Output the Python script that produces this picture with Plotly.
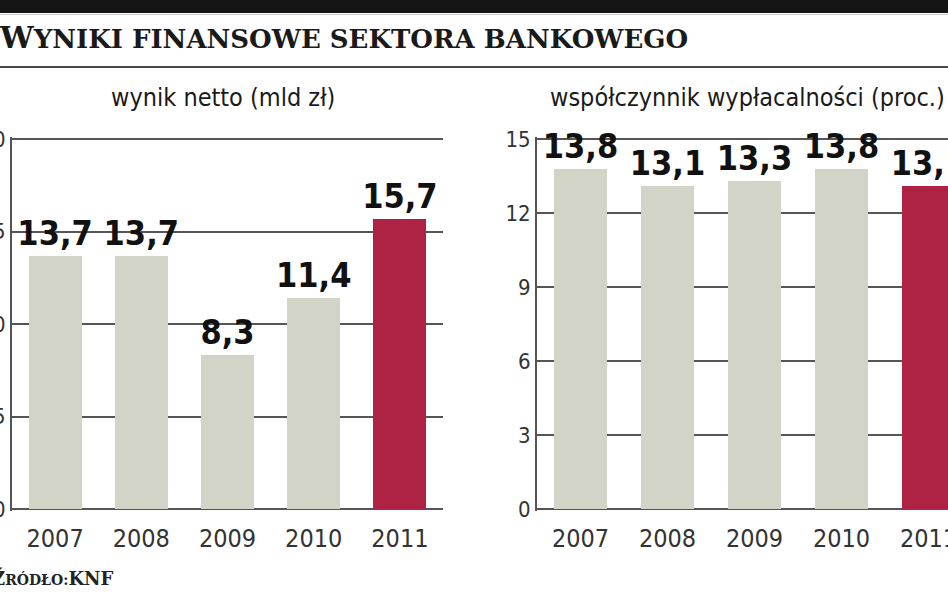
import plotly.graph_objects as go

years = ["2007", "2008", "2009", "2010", "2011"]
net_profit = [13.7, 13.7, 8.3, 11.4, 15.7]
solvency = [13.8, 13.1, 13.3, 13.8, 13.1]
left_ticks = [0, 5, 10, 15, 20]
right_ticks = [0, 3, 6, 9, 12, 15]
title_first = "W"
title_rest = "YNIKI FINANSOWE SEKTORA BANKOWEGO"
left_sub = "wynik netto (mld zł)"
right_sub = "współczynnik wypłacalności (proc.)"
source_first = "Ź"
source_mid = "RÓDŁO:"
source_last = "KNF"

GRAY = "#d3d4c8"
RED = "#ae2343"
GRID = "#555555"
colors = [GRAY] * 4 + [RED]

W, H = 948, 593
NARROW = "Liberation Sans Narrow, DejaVu Sans Condensed, Arial Narrow, sans-serif"
SLAB = "DejaVu Serif, serif"


def px(x):
    return x / W


def py(y):
    return 1 - y / H


def fmt(v):
    return f"{v:.1f}".replace(".", ",")


fig = go.Figure()

label_font = dict(family=NARROW, size=34, color="#111111", weight="bold")

fig.add_trace(go.Bar(
    x=years, y=net_profit, marker=dict(color=colors, line=dict(width=0)),
    width=0.615, text=[fmt(v) for v in net_profit], textposition="outside",
    cliponaxis=False, constraintext="none", textfont=label_font,
    outsidetextfont=label_font, xaxis="x", yaxis="y", hoverinfo="skip",
    showlegend=False))

fig.add_trace(go.Bar(
    x=years, y=solvency, marker=dict(color=colors, line=dict(width=0)),
    width=0.61, text=[fmt(v) for v in solvency], textposition="outside",
    cliponaxis=False, constraintext="none", textfont=label_font,
    outsidetextfont=label_font, xaxis="x2", yaxis="y2", hoverinfo="skip",
    showlegend=False))

xcommon = dict(showgrid=False, zeroline=False, showline=False, ticks="",
               tickfont=dict(family=NARROW, size=25, color="#333333"),
               ticklabelstandoff=10, fixedrange=True, automargin=False)
ycommon = dict(showgrid=True, gridcolor=GRID, gridwidth=2,
               zeroline=True, zerolinecolor=GRID, zerolinewidth=2,
               showline=True, linecolor=GRID, linewidth=2, ticks="",
               tickfont=dict(family=NARROW, size=22, color="#333333"),
               ticklabelstandoff=0, fixedrange=True, automargin=False)

lpx = 18.5
rpx = 24.667
fig.update_layout(
    width=W, height=H, margin=dict(l=0, r=0, t=0, b=0, autoexpand=False),
    paper_bgcolor="white", plot_bgcolor="white", bargap=0,
    xaxis=dict(domain=[px(12), px(443)], range=[-0.5, 4.5], anchor="y", **xcommon),
    yaxis=dict(domain=[py(509 + 0.1 * lpx), py(139 - 0.1 * lpx)], range=[-0.1, 20.1],
               tickvals=left_ticks, anchor="x", **ycommon),
    xaxis2=dict(domain=[px(537), 1.0], range=[-0.5, -0.5 + 411 / 87], anchor="y2", **xcommon),
    yaxis2=dict(domain=[py(509 + 0.1 * rpx), py(139 - 0.1 * rpx)], range=[-0.1, 15.1],
                tickvals=right_ticks, anchor="x2", **ycommon),
)

# header decorations
fig.add_shape(type="rect", xref="paper", yref="paper", x0=0, x1=1, y0=py(13), y1=1,
              fillcolor="#141414", line=dict(width=0), layer="above")
fig.add_shape(type="line", xref="paper", yref="paper", x0=0, x1=1, y0=py(14.5), y1=py(14.5),
              line=dict(color="#c4c4c4", width=1))
fig.add_shape(type="line", xref="paper", yref="paper", x0=0, x1=1, y0=py(67), y1=py(67),
              line=dict(color="#4a4a4a", width=2))

title_html = f"{title_first}<span style='font-size:26px'>{title_rest}</span>"
fig.add_annotation(text=title_html, xref="paper", yref="paper", x=px(-3), y=py(38),
                   xanchor="left", yanchor="middle", showarrow=False,
                   font=dict(family=SLAB, size=30, color="#1a1a1a", weight="bold"))
fig.add_annotation(text=left_sub, xref="paper", yref="paper", x=px(223), y=py(97),
                   xanchor="center", yanchor="middle", showarrow=False,
                   font=dict(family=NARROW, size=25, color="#1a1a1a"))
fig.add_annotation(text=right_sub, xref="paper", yref="paper", x=px(747), y=py(97),
                   xanchor="center", yanchor="middle", showarrow=False,
                   font=dict(family=NARROW, size=25, color="#1a1a1a"))
source_html = f"{source_first}<span style='font-size:14px'>{source_mid}</span>{source_last}"
fig.add_annotation(text=source_html, xref="paper", yref="paper", x=px(-10), y=py(578),
                   xanchor="left", yanchor="middle", showarrow=False,
                   font=dict(family=SLAB, size=18, color="#222222", weight="bold"))

fig.write_html("out.html", post_script="document.body.style.margin='0';",
               config={"displayModeBar": False, "staticPlot": True})
